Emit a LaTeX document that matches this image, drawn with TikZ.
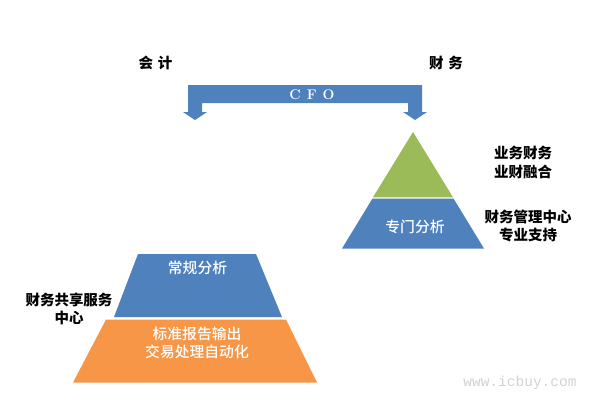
\documentclass[tikz,border=0pt]{standalone}
\usepackage{fontspec}
\newfontfamily\cjk{Noto Sans CJK SC}
\newfontfamily\cjkmed{Noto Sans CJK SC Medium}
\newfontfamily\wmono{Liberation Mono}
\definecolor{finBlue}{HTML}{4F81BD}
\definecolor{finGreen}{HTML}{9BBB59}
\definecolor{finOrange}{HTML}{F79646}
\definecolor{finMark}{HTML}{D2D2D2}
\tikzset{
  fin shape/.style={draw=none},
  fin label/.style={font=\cjk\bfseries\fontsize{14.5}{18.5}\selectfont, text=black, align=center, inner sep=0pt},
  fin inner/.style={font=\cjkmed\fontsize{14.8}{18.5}\selectfont, text=white, align=center, inner sep=0pt},
}
\begin{document}
\begin{tikzpicture}[x=1pt, y=-1pt]
  \useasboundingbox (0,0) rectangle (600,407);
  % CFO bar with two down arrows
  \fill[finBlue] (188,85) -- (422,85) -- (422,112) -- (427,112) -- (415,120) -- (403,112)
    -- (408,112) -- (408,103) -- (202,103) -- (202,112) -- (207,112) -- (195,120)
    -- (183,112) -- (188,112) -- cycle;
  \node[font=\bfseries\fontsize{14}{16}\selectfont, text=white, inner sep=0pt] (cfo) at (312,95) {C\hspace{6pt}F\hspace{6pt}O};
  \node[fin label] (kuaiji) at (155.5,62.5) {会\hspace{5pt}计};
  \node[fin label] (caiwu) at (446,62.5) {财\hspace{5pt}务};
  % right pyramid
  \fill[finGreen] (413,132) -- (453,197.3) -- (373,197.3) -- cycle;
  \fill[finBlue] (372.5,198.5) -- (453.5,198.5) -- (484,248.5) -- (342,248.5) -- cycle;
  \node[fin inner] (zhuanmen) at (415,226.7) {专门分析};
  \node[fin label] (yewu) at (523,162.5) {业务财务\\业财融合};
  \node[fin label] (guanli) at (528,226) {财务管理中心\\专业支持};
  % left stack
  \fill[finBlue] (138,254) -- (256,254) -- (282,317) -- (114,317) -- cycle;
  \fill[finOrange] (106,319.5) -- (286,319.5) -- (317,382.5) -- (73,382.5) -- cycle;
  \node[fin inner] (changgui) at (197.5,267.5) {常规分析};
  \node[fin inner] (biaozhun) at (197,343) {标准报告输出\\交易处理自动化};
  \node[fin label, font=\cjk\bfseries\fontsize{14.5}{17.5}\selectfont] (gongxiang) at (69,309) {财务共享服务\\中心};
  \node[font=\wmono\fontsize{14.5}{16}\selectfont, text=finMark, inner sep=0pt] (mark) at (520,383) {www.icbuy.com};
\end{tikzpicture}
\end{document}
